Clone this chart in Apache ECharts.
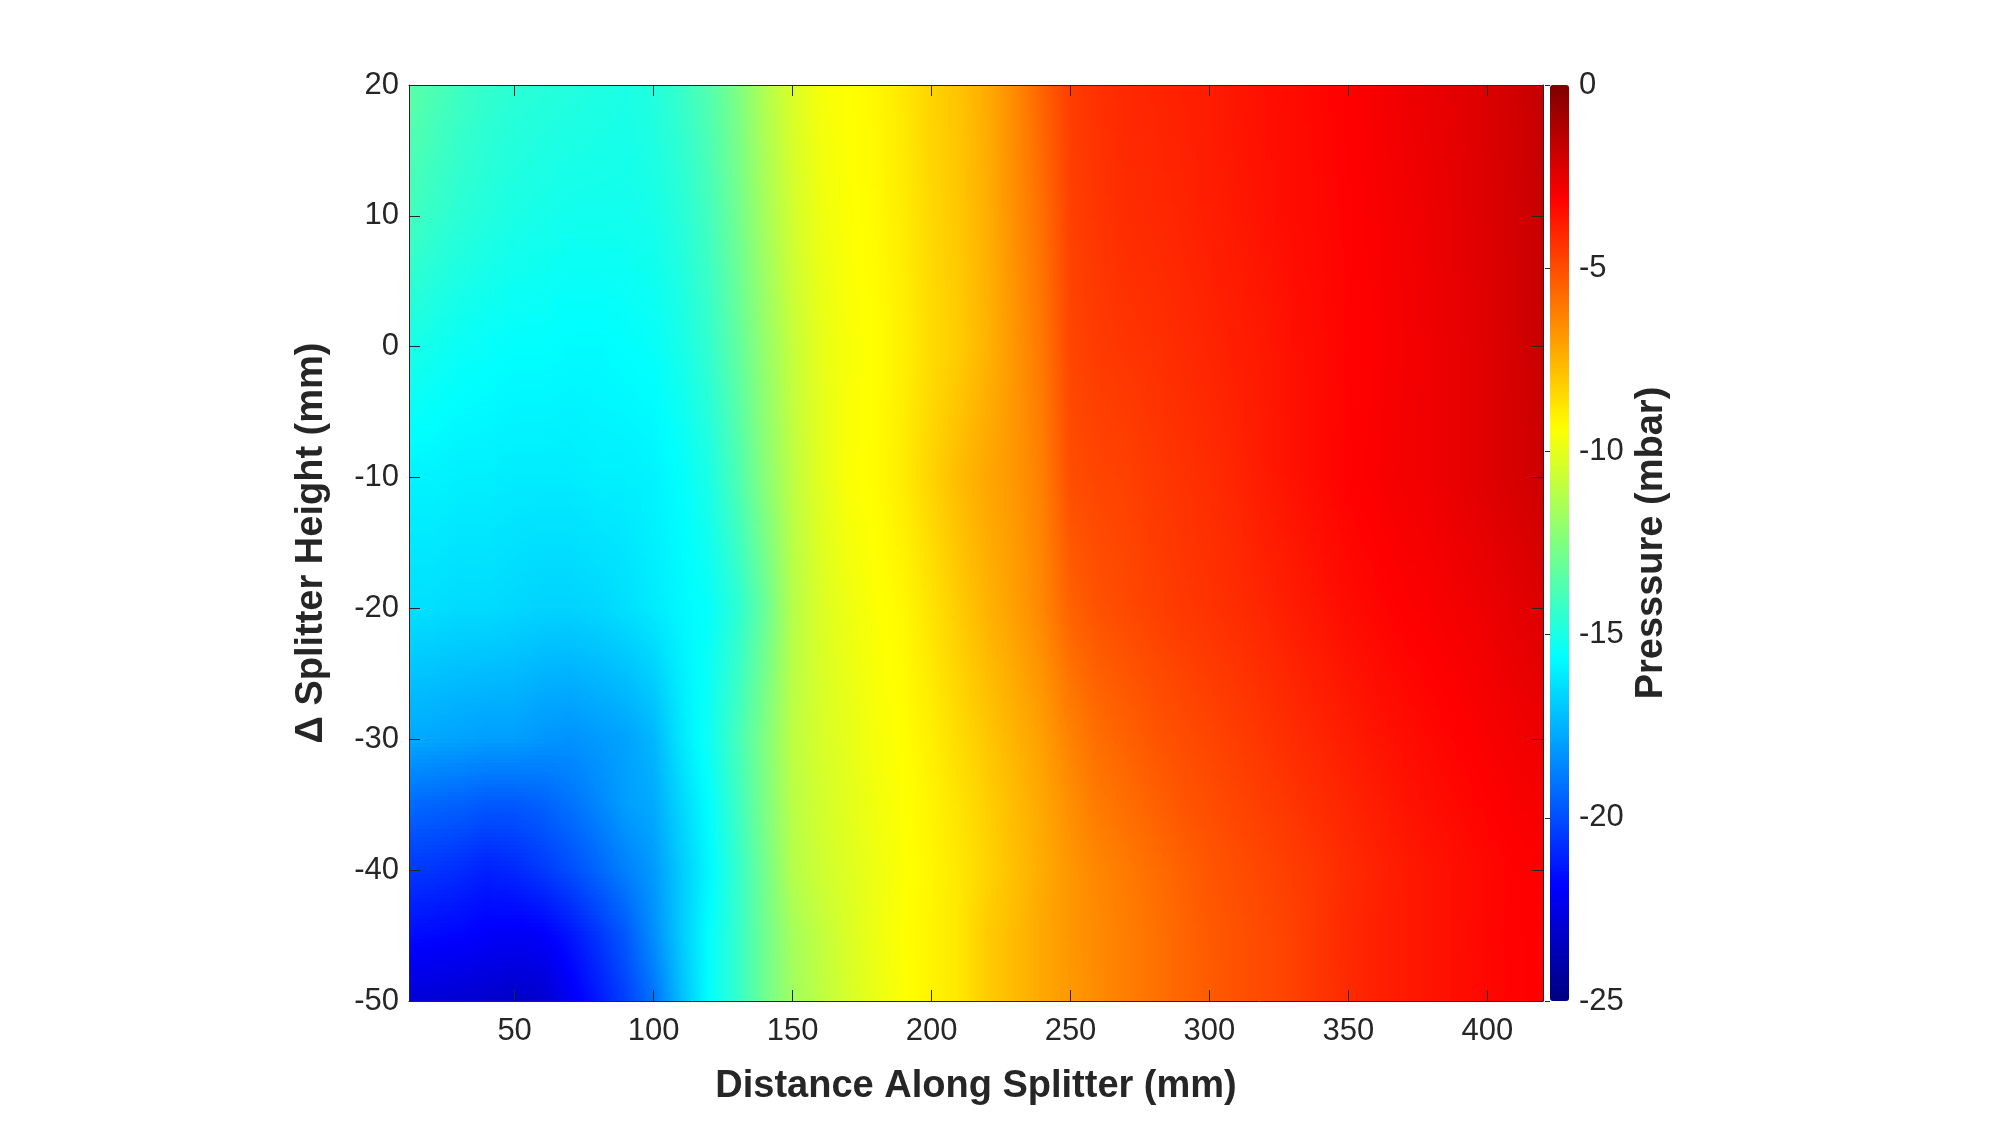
<!DOCTYPE html>
<html>
<head>
<meta charset="utf-8">
<script src="https://cdn.jsdelivr.net/npm/echarts@6/dist/echarts.min.js"></script>
<style>
html,body{margin:0;padding:0;background:#fff;}
#chart{width:1998px;height:1124px;}
</style>
</head>
<body>
<div id="chart"></div>
<script>
// ---- data ----
const xNodes = [12,20,30,40,50,60,70,80,90,100,110,120,130,140,150,160,170,180,190,200,210,220,230,240,250,260,270,280,290,300,310,320,330,340,350,360,370,380,390,400,410,420];
const yNodes = [20,10,0,-10,-20,-30,-35,-40,-45,-50];

const p_y20  = [-13.4,-13.7,-14.1,-14.4,-14.6,-14.7,-14.8,-14.9,-15.0,-14.8,
                -14.3,-13.6,-12.6,-11.3,-10.3,-9.6,-9.4,-9.2,-8.8,-8.3,
                -7.9,-7.3,-6.5,-5.5,-4.6,-4.3,-4.1,-4.0,-3.9,-3.8,
                -3.6,-3.5,-3.4,-3.25,-3.1,-2.95,-2.75,-2.6,-2.45,-2.25,
                -2.0,-1.7];
const p_y10  = [-14.0,-14.3,-14.6,-14.8,-15.0,-15.1,-15.2,-15.2,-15.2,-15.1,
                -14.7,-14.0,-12.9,-11.6,-10.5,-9.8,-9.45,-9.25,-8.9,-8.4,
                -8.0,-7.4,-6.6,-5.8,-4.7,-4.4,-4.2,-4.1,-4.0,-3.85,
                -3.7,-3.55,-3.4,-3.3,-3.15,-3.0,-2.85,-2.7,-2.5,-2.3,
                -2.05,-1.75];
const p_y0   = [-15.0,-15.2,-15.4,-15.5,-15.6,-15.6,-15.7,-15.7,-15.6,-15.5,
                -15.1,-14.4,-13.3,-12.0,-10.8,-10.0,-9.55,-9.35,-9.0,-8.5,
                -8.1,-7.5,-6.8,-6.0,-4.8,-4.55,-4.4,-4.3,-4.15,-4.0,
                -3.85,-3.7,-3.5,-3.35,-3.2,-3.05,-2.9,-2.75,-2.55,-2.35,
                -2.1,-1.8];
const p_ym10 = [-15.9,-15.9,-16.0,-16.0,-16.1,-16.1,-16.1,-16.0,-16.0,-15.9,
                -15.6,-15.0,-13.8,-12.3,-11.0,-10.1,-9.5,-9.3,-8.9,-8.3,
                -7.7,-7.2,-6.8,-6.2,-5.0,-4.8,-4.7,-4.5,-4.35,-4.2,
                -4.0,-3.75,-3.55,-3.35,-3.15,-3.0,-2.85,-2.75,-2.55,-2.35,
                -2.15,-1.9];
const p_ym20 = [-16.4,-16.4,-16.5,-16.5,-16.6,-16.7,-16.7,-16.6,-16.4,-16.1,
                -15.8,-15.5,-14.6,-13.1,-11.2,-10.3,-9.8,-9.45,-9.2,-8.7,
                -8.1,-7.5,-7.0,-6.4,-5.5,-5.1,-4.9,-4.7,-4.5,-4.35,
                -4.2,-4.0,-3.8,-3.6,-3.4,-3.25,-3.1,-3.0,-2.85,-2.7,
                -2.5,-2.3];
const p_ym30 = [-17.7,-17.8,-17.9,-18.0,-18.0,-18.2,-18.3,-18.1,-17.9,-17.4,
                -16.2,-15.3,-14.0,-12.5,-11.0,-10.4,-10.0,-9.6,-9.35,-9.0,
                -8.5,-8.0,-7.5,-7.0,-6.3,-5.8,-5.5,-5.2,-5.0,-4.8,
                -4.6,-4.4,-4.2,-4.0,-3.8,-3.6,-3.45,-3.3,-3.15,-3.0,
                -2.85,-2.7];
const p_ym35 = [-19.3,-19.4,-19.5,-19.7,-19.7,-19.5,-19.1,-18.6,-18.0,-17.7,
                -16.6,-15.6,-14.2,-12.6,-11.1,-10.5,-10.1,-9.7,-9.4,-9.1,
                -8.7,-8.2,-7.7,-7.2,-6.6,-6.1,-5.8,-5.5,-5.2,-5.0,
                -4.8,-4.6,-4.4,-4.2,-4.0,-3.8,-3.6,-3.45,-3.3,-3.15,
                -3.0,-2.9];
const p_ym40 = [-20.5,-20.6,-20.8,-21.1,-20.9,-20.5,-20.0,-19.4,-18.75,-18.1,
                -16.9,-15.8,-14.4,-12.8,-11.2,-10.6,-10.2,-9.8,-9.45,-9.15,
                -8.8,-8.3,-7.8,-7.3,-6.8,-6.4,-6.1,-5.8,-5.5,-5.2,
                -5.0,-4.8,-4.6,-4.4,-4.15,-3.95,-3.75,-3.6,-3.45,-3.3,
                -3.15,-3.05];
const p_ym45 = [-21.6,-21.7,-21.8,-22.0,-22.1,-22.0,-21.4,-20.6,-19.7,-18.4,
                -16.9,-15.6,-14.4,-12.9,-11.6,-10.9,-10.3,-9.8,-9.4,-9.1,
                -8.8,-8.1,-7.7,-7.2,-6.8,-6.5,-6.2,-5.9,-5.6,-5.3,
                -5.1,-4.9,-4.7,-4.4,-4.1,-3.9,-3.75,-3.6,-3.45,-3.25,
                -3.15,-3.1];
const p_ym50 = [-22.8,-22.9,-23.0,-23.1,-23.25,-23.1,-22.2,-21.3,-20.3,-19.1,
                -17.2,-15.6,-14.4,-12.9,-11.7,-11.0,-10.4,-9.9,-9.45,-9.1,
                -8.8,-8.1,-7.7,-7.2,-6.85,-6.5,-6.2,-5.9,-5.6,-5.35,
                -5.1,-4.9,-4.7,-4.4,-4.15,-3.9,-3.75,-3.6,-3.45,-3.3,
                -3.15,-3.1];

const pressureRows = [p_y20, p_y10, p_y0, p_ym10, p_ym20, p_ym30, p_ym35, p_ym40, p_ym45, p_ym50];

const xTicks = [50,100,150,200,250,300,350,400];
const yTicks = [-50,-40,-30,-20,-10,0,10,20];
const cTicks = [-25,-20,-15,-10,-5,0];
const P_MIN = -25, P_MAX = 0;
// jet colormap, evenly spaced stops
const jetPalette = ['#000080','#0000ff','#0080ff','#00ffff','#80ff80','#ffff00','#ff8000','#ff0000','#800000'];

// ---- helpers ----
function hexToRgb(h){ return [parseInt(h.substr(1,2),16),parseInt(h.substr(3,2),16),parseInt(h.substr(5,2),16)]; }
const palRgb = jetPalette.map(hexToRgb);
function jetColor(v){
  let t = (v - P_MIN) / (P_MAX - P_MIN);
  t = Math.max(0, Math.min(1, t));
  const f = t * (palRgb.length - 1);
  const i = Math.min(Math.floor(f), palRgb.length - 2);
  const r = f - i;
  const a = palRgb[i], b = palRgb[i+1];
  return 'rgb(' + Math.round(a[0]+(b[0]-a[0])*r) + ',' + Math.round(a[1]+(b[1]-a[1])*r) + ',' + Math.round(a[2]+(b[2]-a[2])*r) + ')';
}

function renderBand(params, api){
  const j = api.value(2);
  const yA = yNodes[j], yB = yNodes[j+1];
  const xs = xNodes.map(x => api.coord([x, yA])[0]);
  const top = api.coord([xNodes[0], yA])[1];
  const bot = api.coord([xNodes[0], yB])[1];
  const rowA = pressureRows[j], rowB = pressureRows[j+1];
  const n = Math.max(2, Math.round((bot - top) / 4));
  const h = (bot - top) / n;
  const x0 = xs[0], x1 = xs[xs.length-1];
  const children = [];
  for (let k = 0; k < n; k++){
    const f = (k + 0.5) / n;
    const vals = rowA.map((a, i) => a * (1 - f) + rowB[i] * f);
    const stops = [];
    for (let i = 0; i < xs.length - 1; i++){
      for (let s = 0; s < 4; s++){
        const q = s / 4;
        const px = xs[i] + (xs[i+1] - xs[i]) * q;
        const v = vals[i] + (vals[i+1] - vals[i]) * q;
        stops.push({offset: (px - x0) / (x1 - x0), color: jetColor(v)});
      }
    }
    stops.push({offset: 1, color: jetColor(vals[vals.length-1])});
    const sy = Math.floor(top + k * h);
    const ey = Math.ceil(top + (k + 1) * h);
    children.push({
      type: 'rect',
      shape: {x: x0, y: sy, width: x1 - x0, height: ey - sy + 1},
      style: {fill: {type: 'linear', x: x0, y: 0, x2: x1, y2: 0, colorStops: stops, global: true}},
      silent: true
    });
  }
  return {type: 'group', children: children};
}

const bandData = yNodes.slice(0, -1).map((y, j) => [xNodes[0], y, j]);

const FONT = 'Liberation Sans, Arial, Helvetica, sans-serif';
const INK = '#262626';

const chart = echarts.init(document.getElementById('chart'), null, {renderer: 'canvas'});
const option = {
  backgroundColor: '#ffffff',
  animation: false,
  grid: [
    {left: 409, top: 85, width: 1134, height: 916, containLabel: false},
    {left: 1550, top: 85, width: 19, height: 916, containLabel: false}
  ],
  xAxis: [
    {
      gridIndex: 0, type: 'value', position: 'bottom', min: 12, max: 420,
      minInterval: 50, maxInterval: 50, z: 10,
      axisLine: {show: true, onZero: false, lineStyle: {color: INK, width: 1}},
      axisTick: {show: true, inside: true, length: 11, lineStyle: {color: INK, width: 1}},
      axisLabel: {show: true, showMinLabel: false, showMaxLabel: false, margin: 15, fontSize: 31, color: INK, fontFamily: FONT,
        formatter: v => xTicks.indexOf(v) >= 0 ? String(v) : ''},
      splitLine: {show: false},
      name: 'Distance Along Splitter (mm)', nameLocation: 'middle', nameGap: 67,
      nameTextStyle: {fontSize: 38, fontWeight: 'bold', color: INK, fontFamily: FONT}
    },
    {
      gridIndex: 0, type: 'value', position: 'top', min: 12, max: 420,
      minInterval: 50, maxInterval: 50, z: 10,
      axisLine: {show: true, onZero: false, lineStyle: {color: INK, width: 1}},
      axisTick: {show: true, inside: true, length: 11, lineStyle: {color: INK, width: 1}},
      axisLabel: {show: false}, splitLine: {show: false}
    },
    {gridIndex: 1, type: 'value', min: 0, max: 1, show: false}
  ],
  yAxis: [
    {
      gridIndex: 0, type: 'value', position: 'left', min: -50, max: 20, interval: 10, z: 10,
      axisLine: {show: true, onZero: false, lineStyle: {color: INK, width: 1}},
      axisTick: {show: true, inside: true, length: 11, lineStyle: {color: INK, width: 1}},
      axisLabel: {show: true, margin: 10, fontSize: 31, color: INK, fontFamily: FONT, padding: [5, 0, 0, 0],
        formatter: v => yTicks.indexOf(v) >= 0 ? String(v) : ''},
      splitLine: {show: false},
      name: '\u0394 Splitter Height (mm)', nameLocation: 'middle', nameGap: 78, nameRotate: 90,
      nameTextStyle: {fontSize: 38, fontWeight: 'bold', color: INK, fontFamily: FONT}
    },
    {
      gridIndex: 0, type: 'value', position: 'right', min: -50, max: 20, interval: 10, z: 10,
      axisLine: {show: true, onZero: false, lineStyle: {color: INK, width: 1}},
      axisTick: {show: true, inside: true, length: 11, lineStyle: {color: INK, width: 1}},
      axisLabel: {show: false}, splitLine: {show: false}
    },
    {
      gridIndex: 1, type: 'value', position: 'right', min: -25, max: 0, interval: 5, z: 10,
      axisLine: {show: false},
      axisTick: {show: true, inside: true, length: 5, lineStyle: {color: INK, width: 1}},
      axisLabel: {show: true, margin: 10, fontSize: 31, color: INK, fontFamily: FONT, padding: [5, 0, 0, 0],
        formatter: v => cTicks.indexOf(v) >= 0 ? String(v) : ''},
      splitLine: {show: false},
      name: 'Presssure (mbar)', nameLocation: 'middle', nameGap: 64, nameRotate: 90,
      nameTextStyle: {fontSize: 38, fontWeight: 'bold', color: INK, fontFamily: FONT}
    }
  ],
  visualMap: {
    type: 'continuous', min: P_MIN, max: P_MAX, orient: 'vertical',
    left: 1550, top: 85, itemWidth: 19, itemHeight: 916, padding: 0,
    calculable: false, hoverLink: false, realtime: false,
    inRange: {color: jetPalette}, seriesIndex: 1, dimension: 1,
    textStyle: {color: INK}
  },
  series: [
    {
      type: 'custom', xAxisIndex: 0, yAxisIndex: 0, clip: true, z: 2,
      dimensions: ['x', 'y', 'band'], encode: {x: 0, y: 1},
      renderItem: renderBand, data: bandData, silent: true
    },
    {
      type: 'scatter', xAxisIndex: 2, yAxisIndex: 2, data: [], silent: true
    }
  ]
};
chart.setOption(option);
</script>
</body>
</html>
